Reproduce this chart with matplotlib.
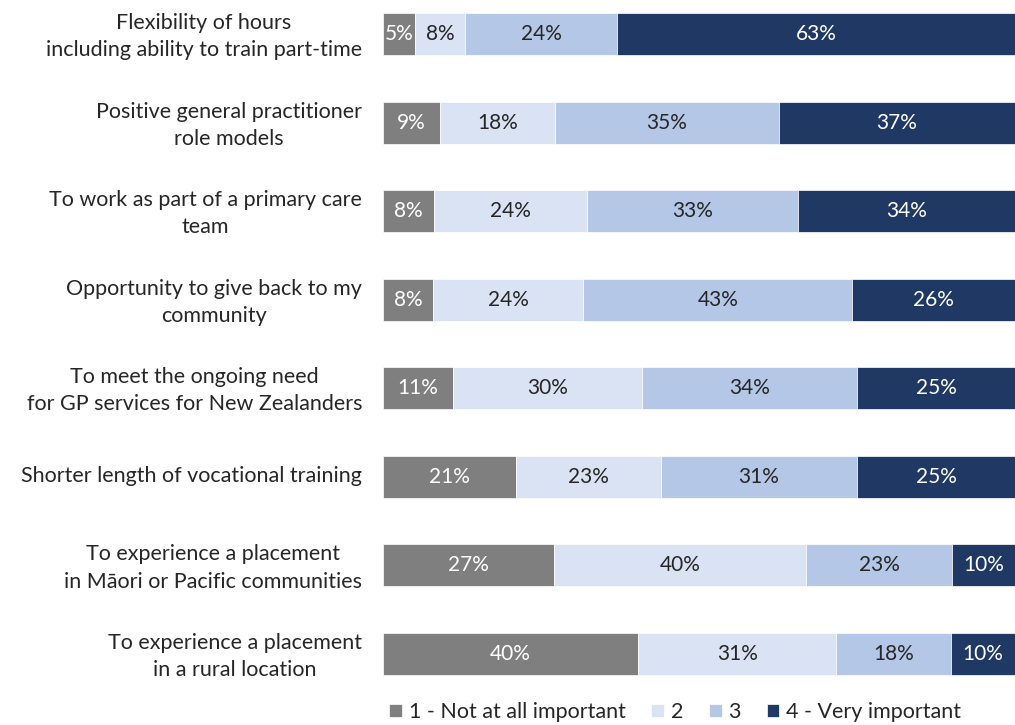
import numpy as np
import matplotlib
matplotlib.use("Agg")
import matplotlib.pyplot as plt
from matplotlib.transforms import ScaledTranslation

plt.rcParams['font.family'] = ['Lato', 'DejaVu Sans']

categories = [
    "Flexibility of hours\nincluding ability to train part-time",
    "Positive general practitioner\nrole models",
    "To work as part of a primary care\nteam",
    "Opportunity to give back to my\ncommunity",
    "To meet the ongoing need\nfor GP services for New Zealanders",
    "Shorter length of vocational training",
    "To experience a placement\nin M\u0101ori or Pacific communities",
    "To experience a placement\nin a rural location",
]
not_important = [5, 9, 8, 8, 11, 21, 27, 40]
rating_2 = [8, 18, 24, 24, 30, 23, 40, 31]
rating_3 = [24, 35, 33, 43, 34, 31, 23, 18]
very_important = [63, 37, 34, 26, 25, 25, 10, 10]

series = [not_important, rating_2, rating_3, very_important]
names = ["1 - Not at all important", "2", "3", "4 - Very important"]
colors = ["#7f7f7f", "#dae3f3", "#b4c7e7", "#203864"]
text_colors = ["white", "#262626", "#262626", "white"]

data = np.array(series, dtype=float)
totals = data.sum(axis=0)
widths = data / totals * 100  # stretch each row to the full bar

fig = plt.figure(figsize=(10.15, 7.25), dpi=100)
ax = fig.add_axes([383 / 1015, 1 - 700 / 725, 632 / 1015, 700 / 725])

y = np.arange(len(categories))
left = np.zeros(len(categories))
for i, (name, color) in enumerate(zip(names, colors)):
    ax.barh(y, widths[i], left=left, height=0.475, color=color,
            edgecolor="white", linewidth=0.5, label=name)
    for j in range(len(categories)):
        ax.text(left[j] + widths[i][j] / 2, y[j], f"{int(data[i][j])}%",
                ha="center", va="center", fontsize=15, color=text_colors[i])
    left += widths[i]

ax.set_xlim(0, 100)
ax.set_ylim((700 - 34) / 88.57, -34 / 88.57)
ax.set_yticks(y)
ax.set_yticklabels(categories, fontsize=15.5, color="#262626",
                   multialignment="center", linespacing=1.45)
ax.tick_params(axis="y", length=0, pad=15)
# nudge labels up a little to sit level with the bars
shift = ScaledTranslation(0, 3 / 100, fig.dpi_scale_trans)
for lbl in ax.get_yticklabels():
    lbl.set_transform(lbl.get_transform() + shift)
ax.set_xticks([])
for s in ax.spines.values():
    s.set_visible(False)

fig.legend(loc="center", bbox_to_anchor=(675 / 1015, 1 - 712 / 725), ncol=4,
           frameon=False, fontsize=15.5, handlelength=0.6, handleheight=0.6,
           handletextpad=0.3, columnspacing=1.2, labelcolor="#262626")

fig.savefig("out.png", dpi=100)
